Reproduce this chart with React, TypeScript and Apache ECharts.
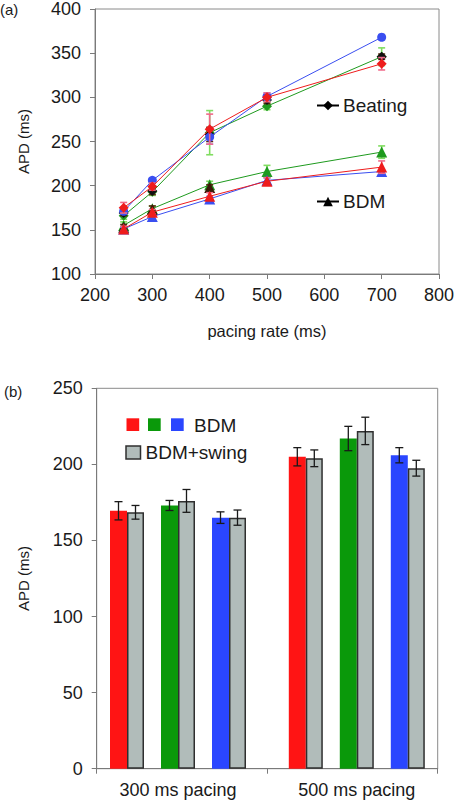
import React, { useEffect, useRef } from "react";
import * as echarts from "echarts";

// ---------- Panel (a) data ----------
const pacingRates = [250, 300, 400, 500, 700];
const xTicks = [200, 300, 400, 500, 600, 700, 800];

const beatGreen = [166, 193, 260, 290, 346];
const beatGreenErr = [4, 4, 25, 4, 10];
const beatBlack = [169, 194, 258, 297, 346];
const beatBlackErr = [3, 4, 8, 4, 3];
const beatBlue = [171, 206, 255, 301, 368];
const beatBlueErr = [3, 3, 8, 4, 3];
const beatRed = [175, 199, 264, 300, 338];
const beatRedErr = [6, 4, 17, 5, 7];

const bdmGreen = [155, 174, 201, 216, 238];
const bdmGreenErr = [4, 3, 4, 7, 7];
const bdmBlack = [153, 173, 198, null, null];
const bdmBlackErr = [3, 4, 3, 0, 0];
const bdmBlue = [151, 165, 185, 206, 216];
const bdmBlueErr = [2, 3, 3, 3, 2];
const bdmRed = [151, 170, 188, 205, 221];
const bdmRedErr = [3, 3, 4, 4, 7];

// ---------- Panel (b) data ----------
const barCategories = ["300 ms pacing", "500 ms pacing"];
const bdmRedBars = [169.5, 205];
const bdmRedBarsErr = [6, 6];
const swingRedBars = [168.5, 204];
const swingRedBarsErr = [4.5, 5.5];
const bdmGreenBars = [173, 217];
const bdmGreenBarsErr = [3.3, 8];
const swingGreenBars = [176, 222];
const swingGreenBarsErr = [7.5, 9];
const bdmBlueBars = [165, 206];
const bdmBlueBarsErr = [3.8, 5];
const swingBlueBars = [165, 197.5];
const swingBlueBarsErr = [5, 5.2];

const FONT = "'Liberation Sans', Arial, sans-serif";
const TXT = "#1a1a1a";
const AXIS = "#7a7a7a";

const C = {
  red: "#ff1414",
  green: "#0a990a",
  blue: "#2a46ff",
  gray: "#b1bcba",
  lineRed: "#ee1c1c",
  lineGreen: "#1e9a1e",
  lineBlue: "#3a4ef0",
  errRed: "#f06a8a",
  errGreen: "#80dd60",
  errBlue: "#7f8cff",
  errBlack: "#5a2a10",
};

function errPoints(xs: number[], ys: (number | null)[], es: number[]) {
  const out: number[][] = [];
  xs.forEach((x, i) => {
    const y = ys[i];
    if (y != null) out.push([x, y - es[i], y + es[i]]);
  });
  return out;
}

function errorSeries(
  data: number[][],
  color: string,
  xAxisIndex: number,
  yAxisIndex: number,
  cap: number,
  width: number,
  offset: number,
  z: number
) {
  return {
    type: "custom",
    xAxisIndex,
    yAxisIndex,
    z,
    silent: true,
    data,
    encode: { x: 0, y: [1, 2] },
    renderItem: (_p: any, api: any) => {
      const x = api.value(0);
      const lo = api.value(1);
      const hi = api.value(2);
      const a = api.coord([x, hi]);
      const b = api.coord([x, lo]);
      const cx = a[0] + offset;
      const st = { stroke: color, lineWidth: width };
      return {
        type: "group",
        children: [
          { type: "line", shape: { x1: cx, y1: a[1], x2: cx, y2: b[1] }, style: st },
          { type: "line", shape: { x1: cx - cap, y1: a[1], x2: cx + cap, y2: a[1] }, style: st },
          { type: "line", shape: { x1: cx - cap, y1: b[1], x2: cx + cap, y2: b[1] }, style: st },
        ],
      };
    },
  };
}

function lineSeries(
  name: string,
  ys: (number | null)[],
  color: string,
  symbol: string,
  size: number,
  showLine: boolean,
  z: number
) {
  return {
    type: "line",
    name,
    xAxisIndex: 0,
    yAxisIndex: 0,
    z,
    data: pacingRates.map((x, i) => [x, ys[i]]),
    symbol,
    symbolSize: size,
    connectNulls: false,
    itemStyle: { color },
    lineStyle: { color, width: showLine ? 1 : 0, opacity: showLine ? 1 : 0 },
  };
}

const BAR_W = 17;

function barSeries(data: number[], color: string, outlined: boolean) {
  return {
    type: "bar",
    xAxisIndex: 2,
    yAxisIndex: 2,
    barWidth: BAR_W,
    barGap: "0%",
    z: 3,
    data,
    itemStyle: {
      color,
      borderColor: outlined ? "#2f2f2f" : color,
      borderWidth: outlined ? 1.5 : 0,
    },
  };
}

function spacerSeries() {
  return {
    type: "bar",
    xAxisIndex: 2,
    yAxisIndex: 2,
    barWidth: BAR_W,
    barGap: "0%",
    data: ["-", "-"],
  };
}

function barErr(ys: number[], es: number[], slot: number) {
  const data = ys.map((y, i) => [i, y - es[i], y + es[i]]);
  const offset = (slot - 3.5) * BAR_W;
  return errorSeries(data, "#1a1a1a", 2, 2, 4, 1.3, offset, 5);
}

export default function App() {
  const ref = useRef<HTMLDivElement>(null);

  useEffect(() => {
    if (!ref.current) return;
    const chart = echarts.init(ref.current, undefined, { renderer: "svg" });

    const tickLabel = { fontFamily: FONT, fontSize: 18, color: TXT };
    const nameStyle = { fontFamily: FONT, fontSize: 15, color: TXT };
    const legendText = { fontFamily: FONT, fontSize: 19, color: TXT };

    const option: any = {
      animation: false,
      backgroundColor: "#ffffff",
      textStyle: { fontFamily: FONT },
      grid: [
        {
          left: 95,
          top: 8,
          width: 344,
          height: 266,
          show: true,
          borderColor: "#8a8a8a",
          borderWidth: 1,
          backgroundColor: "transparent",
        },
        {
          left: 96.7,
          top: 388.3,
          width: 341,
          height: 380.4,
          show: true,
          borderColor: "#8a8a8a",
          borderWidth: 1,
          backgroundColor: "transparent",
        },
        {
          left: 88.6,
          top: 388.3,
          width: 357.6,
          height: 380.4,
          show: false,
        },
      ],
      xAxis: [
        {
          type: "value",
          gridIndex: 0,
          min: xTicks[0],
          max: xTicks[xTicks.length - 1],
          interval: 100,
          axisLine: { lineStyle: { color: AXIS, width: 1 } },
          axisTick: { show: true, inside: false, length: 5, lineStyle: { color: AXIS } },
          axisLabel: { ...tickLabel, margin: 12 },
          splitLine: { show: false },
          name: "pacing rate (ms)",
          nameLocation: "middle",
          nameGap: 48,
          nameTextStyle: { ...nameStyle, fontSize: 16.5 },
        },
        {
          type: "category",
          gridIndex: 1,
          data: barCategories,
          boundaryGap: true,
          axisLine: { lineStyle: { color: AXIS, width: 1 } },
          axisTick: { show: true, inside: false, length: 5, alignWithLabel: false, lineStyle: { color: AXIS } },
          axisLabel: { show: false },
          splitLine: { show: false },
        },
        {
          type: "category",
          gridIndex: 2,
          data: barCategories,
          boundaryGap: true,
          axisLine: { show: false },
          axisTick: { show: false },
          axisLabel: { ...tickLabel, margin: 12 },
          splitLine: { show: false },
        },
      ],
      yAxis: [
        {
          type: "value",
          gridIndex: 0,
          min: 100,
          max: 400,
          interval: 50,
          axisLine: { show: true, lineStyle: { color: AXIS, width: 1 } },
          axisTick: { show: true, inside: false, length: 5, lineStyle: { color: AXIS } },
          axisLabel: { ...tickLabel, margin: 14 },
          splitLine: { show: false },
          name: "APD (ms)",
          nameLocation: "middle",
          nameRotate: 90,
          nameGap: 64,
          nameTextStyle: nameStyle,
        },
        {
          type: "value",
          gridIndex: 1,
          min: 0,
          max: 250,
          interval: 50,
          axisLine: { show: true, lineStyle: { color: AXIS, width: 1 } },
          axisTick: { show: true, inside: false, length: 5, lineStyle: { color: AXIS } },
          axisLabel: { ...tickLabel, margin: 14 },
          splitLine: { show: false },
          name: "APD (ms)",
          nameLocation: "middle",
          nameRotate: 90,
          nameGap: 66,
          nameTextStyle: nameStyle,
        },
        {
          type: "value",
          gridIndex: 2,
          min: 0,
          max: 250,
          interval: 50,
          show: false,
        },
      ],
      legend: [
        {
          data: ["Beating"],
          left: 316,
          top: 96,
          padding: 0,
          itemWidth: 22,
          itemHeight: 12,
          itemGap: 0,
          textStyle: { ...legendText, padding: [0, 0, 0, -1] },
          selectedMode: false,
        },
        {
          data: ["BDM"],
          left: 316,
          top: 192,
          padding: 0,
          itemWidth: 22,
          itemHeight: 12,
          itemGap: 0,
          textStyle: { ...legendText, padding: [0, 0, 0, -1] },
          selectedMode: false,
        },
      ],
      graphic: [
        { type: "text", left: 0, top: 2, style: { text: "(a)", font: `15px ${FONT}`, fill: TXT } },
        { type: "text", left: 4, top: 384, style: { text: "(b)", font: `15px ${FONT}`, fill: TXT } },
        { type: "rect", shape: { x: 126.5, y: 418.3, width: 12.7, height: 12.7 }, style: { fill: C.red } },
        { type: "rect", shape: { x: 148, y: 418.3, width: 12.7, height: 12.7 }, style: { fill: C.green } },
        { type: "rect", shape: { x: 171, y: 418.3, width: 12.7, height: 12.7 }, style: { fill: C.blue } },
        {
          type: "text",
          x: 194,
          y: 425,
          style: { text: "BDM", font: `19px ${FONT}`, fill: TXT, verticalAlign: "middle" },
        },
        {
          type: "rect",
          shape: { x: 126, y: 446, width: 14.5, height: 13 },
          style: { fill: C.gray, stroke: "#2f2f2f", lineWidth: 1.5 },
        },
        {
          type: "text",
          x: 145.5,
          y: 452.5,
          style: { text: "BDM+swing", font: `19px ${FONT}`, fill: TXT, verticalAlign: "middle" },
        },
      ],
      series: [
        // legend-only series
        {
          type: "line",
          name: "Beating",
          xAxisIndex: 0,
          yAxisIndex: 0,
          data: [],
          symbol: "diamond",
          symbolSize: 14,
          itemStyle: { color: "#000" },
          lineStyle: { color: "#000", width: 1 },
        },
        {
          type: "line",
          name: "BDM",
          xAxisIndex: 0,
          yAxisIndex: 0,
          data: [],
          symbol: "triangle",
          symbolSize: 14,
          itemStyle: { color: "#000" },
          lineStyle: { color: "#000", width: 1 },
        },
        // green
        errorSeries(errPoints(pacingRates, beatGreen, beatGreenErr), C.errGreen, 0, 0, 3.5, 1.6, 0, 2),
        errorSeries(errPoints(pacingRates, bdmGreen, bdmGreenErr), C.errGreen, 0, 0, 3.5, 1.6, 0, 2),
        lineSeries("g1", beatGreen, C.lineGreen, "diamond", 10, true, 2),
        lineSeries("g2", bdmGreen, C.lineGreen, "triangle", 11, true, 2),
        // black
        errorSeries(errPoints(pacingRates, beatBlack, beatBlackErr), C.errBlack, 0, 0, 3.5, 1.6, 0, 3),
        errorSeries(errPoints(pacingRates, bdmBlack, bdmBlackErr), C.errBlack, 0, 0, 3.5, 1.6, 0, 3),
        lineSeries("k1", beatBlack, "#111", "diamond", 10, false, 3),
        lineSeries("k2", bdmBlack, "#3a1a08", "triangle", 11, false, 3),
        // blue
        errorSeries(errPoints(pacingRates, beatBlue, beatBlueErr), C.errBlue, 0, 0, 3.5, 1.6, 0, 4),
        errorSeries(errPoints(pacingRates, bdmBlue, bdmBlueErr), C.errBlue, 0, 0, 3.5, 1.6, 0, 4),
        lineSeries("b1", beatBlue, C.lineBlue, "circle", 9, true, 4),
        lineSeries("b2", bdmBlue, C.lineBlue, "triangle", 11, true, 4),
        // red
        errorSeries(errPoints(pacingRates, beatRed, beatRedErr), C.errRed, 0, 0, 3.5, 1.6, 0, 5),
        errorSeries(errPoints(pacingRates, bdmRed, bdmRedErr), C.errRed, 0, 0, 3.5, 1.6, 0, 5),
        lineSeries("r1", beatRed, C.lineRed, "diamond", 10, true, 5),
        lineSeries("r2", bdmRed, C.lineRed, "triangle", 11, true, 5),
        // bars
        barSeries(bdmRedBars, C.red, false),
        barSeries(swingRedBars, C.gray, true),
        spacerSeries(),
        barSeries(bdmGreenBars, C.green, false),
        barSeries(swingGreenBars, C.gray, true),
        spacerSeries(),
        barSeries(bdmBlueBars, C.blue, false),
        barSeries(swingBlueBars, C.gray, true),
        barErr(bdmRedBars, bdmRedBarsErr, 0),
        barErr(swingRedBars, swingRedBarsErr, 1),
        barErr(bdmGreenBars, bdmGreenBarsErr, 3),
        barErr(swingGreenBars, swingGreenBarsErr, 4),
        barErr(bdmBlueBars, bdmBlueBarsErr, 6),
        barErr(swingBlueBars, swingBlueBarsErr, 7),
      ],
    };

    chart.setOption(option);
    return () => chart.dispose();
  }, []);

  return (
    <div
      ref={ref}
      style={{ position: "fixed", left: 0, top: 0, width: 458, height: 804, background: "#fff" }}
    />
  );
}
